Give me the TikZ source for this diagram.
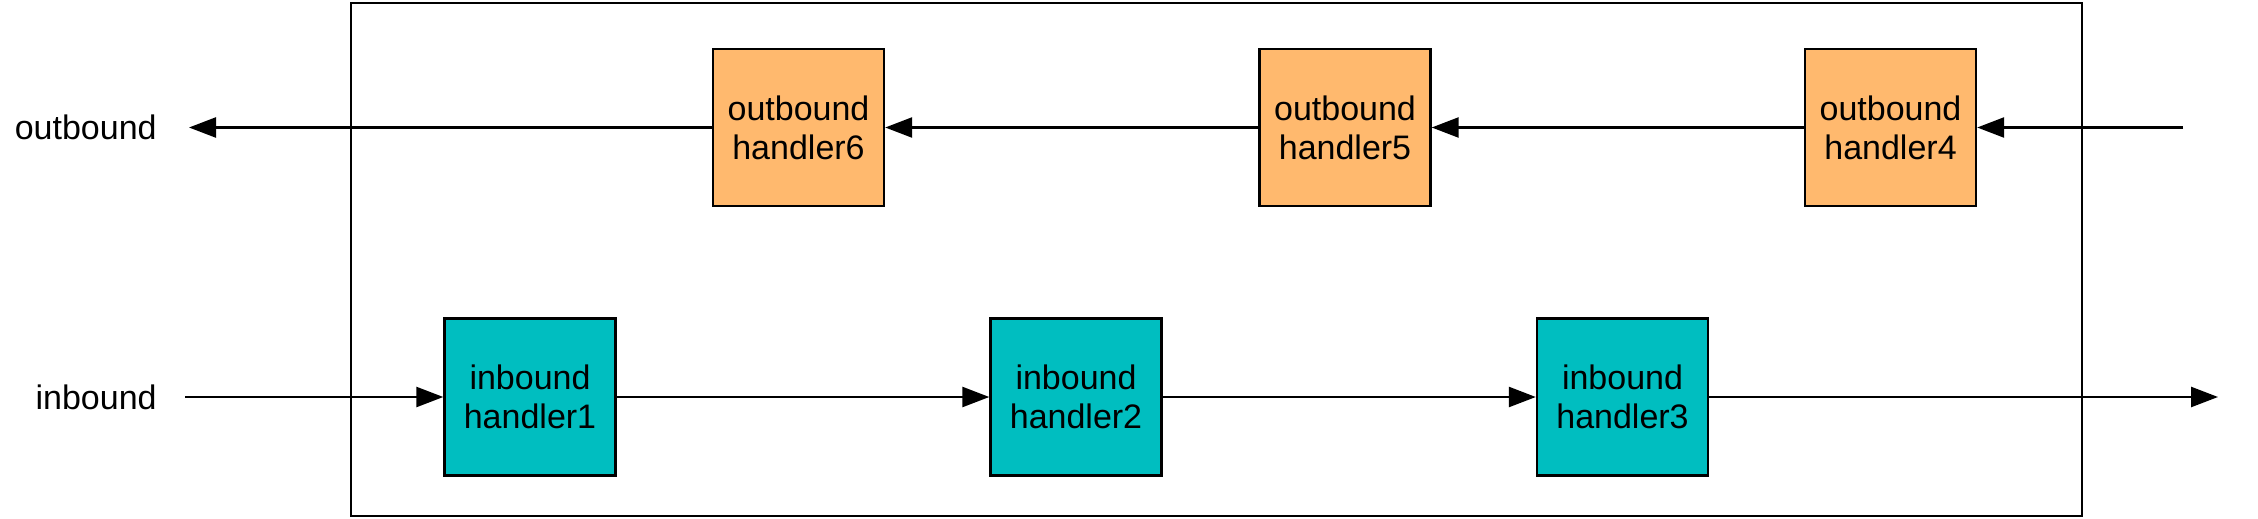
\documentclass[tikz,border=0pt]{standalone}
\usepackage{fontspec}
\setmainfont{Liberation Sans}
\usetikzlibrary{arrows.meta}
\definecolor{outfill}{RGB}{255,185,110}
\definecolor{infill}{RGB}{0,190,192}
\tikzset{
  handler/.style={draw=black, line width=1.2pt, minimum width=85.5pt, minimum height=78.5pt,
    inner sep=0pt, align=center, font=\fontsize{17}{19.5}\selectfont},
  outh/.style={handler, fill=outfill},
  inh/.style={handler, fill=infill},
  lbl/.style={anchor=east, inner sep=0pt, font=\fontsize{17}{19.5}\selectfont},
  flow/.style={line width=1.25pt, -{Triangle[length=13.5pt,width=10pt]}},
  framebox/.style={draw=black, line width=1.1pt}
}
\begin{document}
\begin{tikzpicture}[x=0.5pt,y=-0.5pt]
\useasboundingbox (0,0) rectangle (2258,519);
\node[framebox, minimum width=865.5pt, minimum height=256.5pt, inner sep=0pt] (frame) at (1216.5,259.5) {};
% labels
\node[lbl] (lout) at (157,127) {outbound};
\node[lbl] (lin) at (157,397) {inbound};
% outbound handlers
\node[outh] (o6) at (798.5,127.5) {outbound\\handler6};
\node[outh] (o5) at (1345,127.5) {outbound\\handler5};
\node[outh] (o4) at (1890.5,127.5) {outbound\\handler4};
% inbound handlers
\node[inh] (i1) at (530,397) {inbound\\handler1};
\node[inh] (i2) at (1076,397) {inbound\\handler2};
\node[inh] (i3) at (1622.5,397) {inbound\\handler3};
% free ends
\coordinate (ostart) at (2183,127.5);
\coordinate (oend) at (189,127.5);
\coordinate (istart) at (185,397);
\coordinate (iend) at (2218,397);
% connectors
\draw[flow] (ostart) -- (o4.east);
\draw[flow] (o4.west) -- (o5.east);
\draw[flow] (o5.west) -- (o6.east);
\draw[flow] (o6.west) -- (oend);
\draw[flow] (istart) -- (i1.west);
\draw[flow] (i1.east) -- (i2.west);
\draw[flow] (i2.east) -- (i3.west);
\draw[flow] (i3.east) -- (iend);
\end{tikzpicture}
\end{document}
